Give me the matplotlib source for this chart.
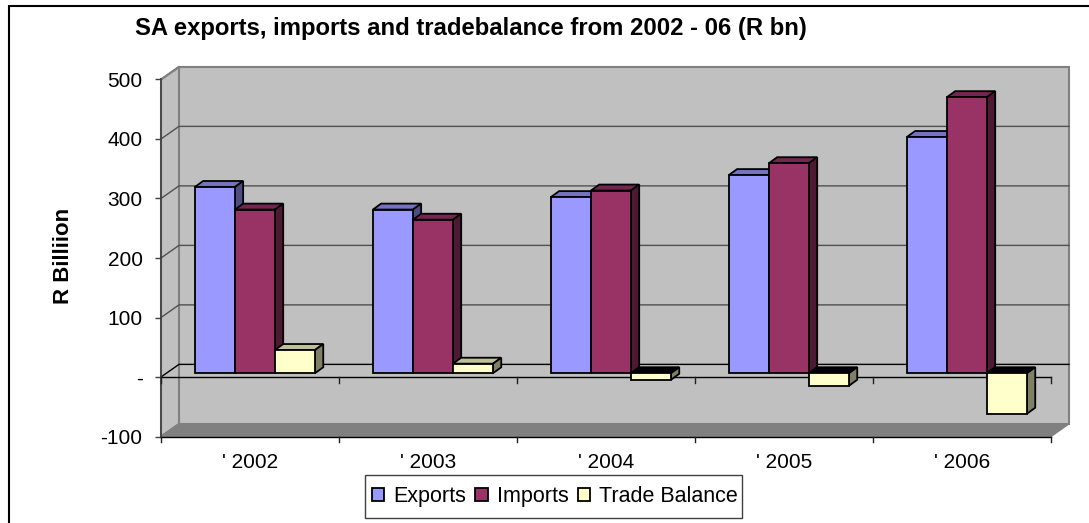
import numpy as np
import matplotlib
matplotlib.use('Agg')
import matplotlib.pyplot as plt
from matplotlib.patches import Polygon, Rectangle

plt.rcParams['font.family'] = ['Liberation Sans', 'DejaVu Sans']

years = ["' 2002", "' 2003", "' 2004", "' 2005", "' 2006"]
exports = [313, 275, 296, 333, 397]
imports = [275, 258, 307, 353, 464]
balance = [39, 16, -11, -21, -68]
y_ticks = [-100, 0, 100, 200, 300, 400, 500]
y_labels = ['-100', '-', '100', '200', '300', '400', '500']

# shades for each series: front, side, top
colors = {
    'Exports': ('#9999ff', '#4d4d80', '#7373bf'),
    'Imports': ('#993366', '#4d1a33', '#732650'),
    'Trade Balance': ('#ffffcc', '#808066', '#bfbf99'),
}

# depth of the fake 3d box, in data units
wall_dx = 0.101
wall_dy = 21.2
front_dx = 0.028
front_dy = 6.4
bar_dx = 0.046
bar_dy = 10
bar_w = 0.225


def poly(ax, pts, fc, ec='black', lw=1.3, z=3):
    ax.add_patch(Polygon(pts, closed=True, fc=fc, ec=ec, lw=lw, zorder=z,
                         clip_on=False, joinstyle='miter'))


def bar3d(ax, x, v, shades, z):
    front, side, top = shades
    x0 = x + front_dx
    x1 = x0 + bar_w
    y0 = front_dy
    y1 = v + front_dy
    ytop = max(y0, y1)
    # the top of a bar going down is seen from inside, so it is black
    poly(ax, [(x0, ytop), (x1, ytop), (x1 + bar_dx, ytop + bar_dy), (x0 + bar_dx, ytop + bar_dy)],
         top if v >= 0 else 'black', z=z)
    poly(ax, [(x1, y0), (x1 + bar_dx, y0 + bar_dy), (x1 + bar_dx, y1 + bar_dy), (x1, y1)], side, z=z)
    poly(ax, [(x0, y0), (x1, y0), (x1, y1), (x0, y1)], front, z=z)


fig = plt.figure(figsize=(10.89, 5.23), dpi=100)
ax = fig.add_axes([161 / 1089, 1 - 436.5 / 523, 890 / 1089, 357 / 523])
ax.set_xlim(0, 5)
ax.set_ylim(-100, 500)
ax.patch.set_visible(False)
for s in ax.spines.values():
    s.set_visible(False)

# walls and floor
poly(ax, [(wall_dx, -100 + wall_dy), (5 + wall_dx, -100 + wall_dy), (5 + wall_dx, 500 + wall_dy), (wall_dx, 500 + wall_dy)],
     '#c0c0c0', ec='#808080', lw=1.5, z=0)
poly(ax, [(0, -100), (0, 500), (wall_dx, 500 + wall_dy), (wall_dx, -100 + wall_dy)],
     '#c0c0c0', ec='#808080', lw=1.5, z=0)
poly(ax, [(0, -100), (5, -100), (5 + wall_dx, -100 + wall_dy), (wall_dx, -100 + wall_dy)],
     '#808080', ec='#808080', lw=1, z=0)

# gridlines run along the back wall and step down the left wall
for t in y_ticks[1:-1]:
    c = 'black' if t == 0 else '#505050'
    ax.plot([0, wall_dx, 5 + wall_dx], [t, t + wall_dy, t + wall_dy], color=c, lw=1.0, zorder=1,
            clip_on=False, solid_joinstyle='miter')
ax.plot([0, wall_dx], [500, 500 + wall_dy], color='#808080', lw=1.4, zorder=1, clip_on=False)

# front axis lines
ax.plot([0, 0], [-100, 500], color='#404040', lw=1.2, zorder=2, clip_on=False)
ax.plot([0, 5], [0, 0], color='black', lw=1.0, zorder=2, clip_on=False)
ax.plot([0, 5], [-100, -100], color='black', lw=1.0, zorder=2, clip_on=False)
tick_h = 10
for i in range(6):
    for base in (0, -100):
        ax.plot([i, i], [base, base - tick_h], color='#202020', lw=1.0, zorder=2, clip_on=False)

ax.set_yticks(y_ticks)
ax.set_yticklabels(y_labels)
ax.set_xticks(np.arange(5) + 0.5)
ax.set_xticklabels(years)
ax.tick_params(axis='y', length=4.3, width=1.0, color='#404040', pad=9, labelsize=15)
ax.tick_params(axis='x', length=0, pad=12, labelsize=15)

for i in range(5):
    bar3d(ax, i + 0.5 - 1.5 * bar_w, exports[i], colors['Exports'], 3 + i)
    bar3d(ax, i + 0.5 - 0.5 * bar_w, imports[i], colors['Imports'], 3 + i)
    bar3d(ax, i + 0.5 + 0.5 * bar_w, balance[i], colors['Trade Balance'], 3 + i)

ax.set_ylabel('R Billiion', fontsize=16, fontweight='bold', labelpad=0)
ax.yaxis.set_label_coords((74 - 161) / 890, (436.5 - 255.5) / 357)

fig.text(135 / 1089, 1 - 34.5 / 523, 'SA exports, imports and tradebalance from 2002 - 06 (R bn)',
         fontsize=17.2, fontweight='bold', va='baseline', ha='left')

# legend box is drawn separately, it is taller than the entries need
fig.add_artist(Rectangle((365 / 1089, 1 - 518 / 523), 377 / 1089, 43 / 523, transform=fig.transFigure,
                         fc='white', ec='#404040', lw=1.0))
handles = [Rectangle((0, 0), 1, 1, fc=colors[k][0], ec='black', lw=1.3) for k in colors]
leg = fig.legend(handles, list(colors), ncol=3, loc='center', bbox_to_anchor=(555 / 1089, 1 - 496.5 / 523),
                 fontsize=15.5, frameon=False,
                 handlelength=0.58, handleheight=0.58, handletextpad=0.42, columnspacing=0.42,
                 borderpad=0, borderaxespad=0)

# outer frame, open on the right and at the bottom
fig.add_artist(plt.Line2D([8.5 / 1089, 8.5 / 1089, 1], [0, 1 - 5.5 / 523, 1 - 5.5 / 523],
                          color='black', lw=1.5, solid_joinstyle='miter'))

fig.savefig('out.png', dpi=100)
